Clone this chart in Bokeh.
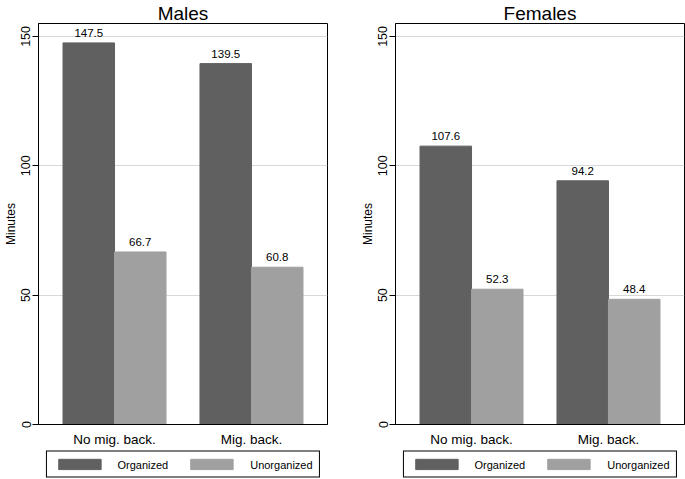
from bokeh.plotting import figure
from bokeh.models import ColumnDataSource, FixedTicker, Range1d, Legend, LegendItem
from bokeh.layouts import row, column
from bokeh.transform import dodge
from bokeh.core.properties import value
from bokeh.embed import file_html
from bokeh.resources import INLINE

groups = ["No mig. back.", "Mig. back."]
series = ["Organized", "Unorganized"]
males_organized = [147.5, 139.5]
males_unorganized = [66.7, 60.8]
females_organized = [107.6, 94.2]
females_unorganized = [52.3, 48.4]
y_ticks = [0, 50, 100, 150]

DARK = "#606060"
LIGHT = "#a0a0a0"
FONT = "Liberation Sans"
BW = 0.376
MAIN_H = 449
LEG_H = 30


def make_source(org, unorg):
    return ColumnDataSource(dict(
        x=list(range(len(groups))), org=org, unorg=unorg,
        org_lbl=[f"{v:.1f}" for v in org],
        unorg_lbl=[f"{v:.1f}" for v in unorg],
    ))


def add_bars(p, src):
    r1 = p.vbar(x=dodge("x", -BW / 2), top="org", width=BW, source=src,
                fill_color=DARK, line_color=DARK)
    r2 = p.vbar(x=dodge("x", BW / 2), top="unorg", width=BW, source=src,
                fill_color=LIGHT, line_color=LIGHT)
    return r1, r2


def panel(title, org, unorg, width, left_border, right_border):
    src = make_source(org, unorg)
    p = figure(width=width, height=MAIN_H,
               x_range=Range1d(-0.555, 1.555), y_range=Range1d(0, 155),
               output_backend="svg", toolbar_location=None,
               min_border_left=left_border, min_border_right=right_border,
               min_border_top=14, min_border_bottom=0)
    p.background_fill_color = "white"
    p.border_fill_color = "white"
    p.outline_line_color = "black"
    p.outline_line_width = 1

    p.title.text = title
    p.title.align = "center"
    p.title.text_font = FONT
    p.title.text_font_size = "19px"
    p.title.text_font_style = "normal"
    p.title.text_color = "black"
    p.title.standoff = 0
    p.title.offset = 0

    add_bars(p, src)
    for col, lbl, off in (("org", "org_lbl", -BW / 2), ("unorg", "unorg_lbl", BW / 2)):
        p.text(x=dodge("x", off), y=col, text=lbl, source=src,
               text_align="center", text_baseline="bottom", y_offset=-6,
               text_font=value(FONT), text_font_size="11.5px", text_color="black")

    p.yaxis.ticker = FixedTicker(ticks=y_ticks)
    p.yaxis.axis_label = "Minutes"
    p.yaxis.axis_label_text_font = FONT
    p.yaxis.axis_label_text_font_size = "12px"
    p.yaxis.axis_label_text_font_style = "normal"
    p.yaxis.axis_label_text_color = "black"
    p.yaxis.axis_label_standoff = 1
    p.yaxis.major_label_orientation = "vertical"
    p.yaxis.major_label_text_font = FONT
    p.yaxis.major_label_text_font_size = "12.5px"
    p.yaxis.major_label_text_color = "black"
    p.yaxis.major_label_standoff = 2
    p.yaxis.major_tick_out = 6
    p.yaxis.major_tick_in = 0
    p.yaxis.minor_tick_line_color = None
    p.yaxis.axis_line_color = "black"

    p.xaxis.ticker = FixedTicker(ticks=list(range(len(groups))))
    p.xaxis.major_label_overrides = {i: g for i, g in enumerate(groups)}
    p.xaxis.major_label_text_font = FONT
    p.xaxis.major_label_text_font_size = "13.5px"
    p.xaxis.major_label_text_color = "black"
    p.xaxis.major_label_standoff = 1
    p.xaxis.major_tick_line_color = None
    p.xaxis.minor_tick_line_color = None
    p.xaxis.axis_line_color = "black"

    p.xgrid.grid_line_color = None
    p.ygrid.ticker = FixedTicker(ticks=[t for t in y_ticks if t > 0])
    p.ygrid.grid_line_color = "#d8d8d8"

    # legend strip below the panel (its y range lies far above the bars, so none show)
    lf = figure(width=width, height=LEG_H,
                x_range=Range1d(-0.555, 1.555), y_range=Range1d(1000, 1001),
                output_backend="svg", toolbar_location=None,
                x_axis_location=None, y_axis_location=None,
                min_border_left=left_border, min_border_right=right_border,
                min_border_top=0, min_border_bottom=0)
    lf.outline_line_color = None
    lf.grid.grid_line_color = None
    lf.background_fill_color = "white"
    lf.border_fill_color = "white"
    l1, l2 = add_bars(lf, src)
    legend = Legend(items=[LegendItem(label=series[0], renderers=[l1]),
                           LegendItem(label=series[1], renderers=[l2])],
                    orientation="horizontal", location="center")
    legend.glyph_width = 53
    legend.glyph_height = 13
    legend.label_height = 13
    legend.label_standoff = 12
    legend.spacing = 17
    legend.padding = 6
    legend.margin = 0
    legend.label_text_font = FONT
    legend.label_text_font_size = "11px"
    legend.label_text_color = "black"
    legend.border_line_color = "black"
    legend.border_line_width = 1
    legend.border_line_alpha = 1
    legend.background_fill_color = "white"
    legend.background_fill_alpha = 1
    lf.add_layout(legend, "center")
    return column(p, lf, spacing=0)


left = panel("Males", males_organized, males_unorganized, 342, 38, 15)
right = panel("Females", females_organized, females_unorganized, 343, 53, 1)
layout = row(left, right, spacing=0)

open("out.html", "w").write(file_html(layout, INLINE))
